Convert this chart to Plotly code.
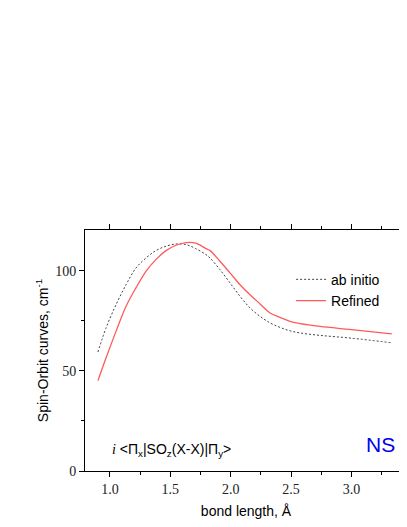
import plotly.graph_objects as go

# ab initio curve (black dotted)
x_ab = [0.90, 0.967, 1.05, 1.133, 1.215, 1.298, 1.38, 1.464, 1.547, 1.63, 1.71, 1.795,
        1.829, 1.911, 1.994, 2.077, 2.16, 2.243, 2.326, 2.408, 2.49, 2.575, 2.74, 3.0, 3.334]
y_ab = [59.4, 71.4, 83.0, 93.0, 101.3, 106.3, 110.0, 112.2, 113.3, 113.0, 111.0, 108.0,
        106.3, 100.5, 93.9, 87.2, 81.4, 77.2, 73.9, 71.7, 70.0, 68.9, 67.7, 66.3, 64.0]

# Refined curve (red solid)
x_ref = [0.90, 0.967, 1.05, 1.133, 1.215, 1.298, 1.38, 1.464, 1.547, 1.63, 1.71, 1.795,
         1.829, 1.911, 1.994, 2.077, 2.16, 2.243, 2.326, 2.408, 2.49, 2.575, 2.74, 3.0, 3.334]
y_ref = [45.1, 56.4, 69.7, 82.2, 91.4, 99.7, 105.5, 110.0, 112.7, 114.0, 113.7, 111.0,
         110.0, 104.7, 98.9, 93.0, 88.0, 83.4, 78.9, 76.7, 74.7, 73.6, 72.2, 70.6, 68.4]

x_ticks = [1.0, 1.5, 2.0, 2.5, 3.0, 3.5]
x_tick_labels = ["1.0", "1.5", "2.0", "2.5", "3.0", "3.5"]
y_ticks = [0, 50, 100]

fig = go.Figure()
fig.add_trace(go.Scatter(x=x_ab, y=y_ab, mode="lines", name="ab initio",
                         line=dict(color="#444444", width=1, dash="2px,2px",
                                   shape="spline", smoothing=1.0)))
fig.add_trace(go.Scatter(x=x_ref, y=y_ref, mode="lines", name="Refined",
                         line=dict(color="#ff5a5a", width=1.3, shape="spline", smoothing=1.0)))

serif = "Liberation Serif"
sans = "Liberation Sans"

fig.update_layout(
    width=399, height=519, autosize=False,
    margin=dict(l=77, r=0, t=222, b=56),
    plot_bgcolor="white", paper_bgcolor="white",
    showlegend=True,
    legend=dict(x=0.64, y=0.86, xanchor="left", yanchor="top",
                bgcolor="rgba(0,0,0,0)", font=dict(family=sans, size=14, color="black"),
                tracegroupgap=0, itemwidth=30),
    xaxis=dict(range=[0.793, 3.46], tickvals=x_ticks, ticktext=x_tick_labels,
               ticks="outside", ticklen=5, tickcolor="black", showline=True, linecolor="black",
               linewidth=1, mirror="ticks", showgrid=False, zeroline=False,
               tickfont=dict(family=serif, size=14, color="#222"),
               minor=dict(dtick=0.25, tick0=0.75, ticks="outside", ticklen=3, tickcolor="black"),
               title=dict(text="bond length, Å", font=dict(family=sans, size=14, color="black"),
                          standoff=10)),
    yaxis=dict(range=[0, 120.3], tickvals=y_ticks, ticks="outside", ticklen=5, tickcolor="black",
               showline=True, linecolor="black", linewidth=1, mirror=False,
               showgrid=False, zeroline=False,
               tickfont=dict(family=serif, size=14, color="#222"),
               minor=dict(tickvals=[25, 75], ticks="outside", ticklen=3, tickcolor="black"),
               title=dict(text="Spin-Orbit curves, cm<sup>-1</sup>",
                          font=dict(family=sans, size=14, color="black"), standoff=3)),
)

fig.add_annotation(x=1.0, y=10.5, xref="x", yref="y", xanchor="left", yanchor="middle",
                   showarrow=False,
                   text="<i><span style='font-family:Liberation Serif'>i</span></i> &lt;Π<sub>x</sub>|SO<sub>z</sub>(X-X)|Π<sub>y</sub>&gt;",
                   font=dict(family=sans, size=14, color="black"))
fig.add_annotation(x=3.237, y=13, xref="x", yref="y", xanchor="center", yanchor="middle",
                   showarrow=False, text="NS",
                   font=dict(family=sans, size=21, color="#0000ee"))

fig.write_html("out.html")
